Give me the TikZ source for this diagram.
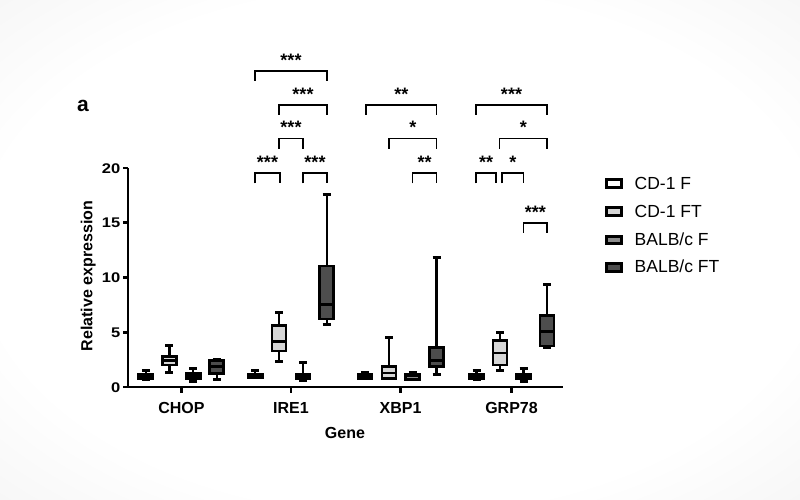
\documentclass[tikz,border=0pt]{standalone}
\usepackage{fontspec}
\setmainfont{Liberation Sans}
\usepackage{graphicx}
\pgfdeclareradialshading{vign}{\pgfpoint{0bp}{0bp}}{color(0bp)=(white); color(26bp)=(white); color(50bp)=(black!8); color(72bp)=(black!14)}
\definecolor{cfa}{HTML}{FFFFFF}
\definecolor{cfb}{HTML}{D6D6D6}
\definecolor{cfc}{HTML}{8C8C8C}
\definecolor{cfd}{HTML}{4D4D4D}
\newcommand\boxplt[7]{%
  \pgfmathsetmacro\ylo{387-10.95*#2}%
  \pgfmathsetmacro\yqa{387-10.95*#3}%
  \pgfmathsetmacro\ymd{387-10.95*#4}%
  \pgfmathsetmacro\yqb{387-10.95*#5}%
  \pgfmathsetmacro\yhi{387-10.95*#6}%
  \draw[whisk] (#1,\ylo) -- (#1,\yqa) (#1,\yqb) -- (#1,\yhi);
  \draw[wcap] (#1-4,\ylo) -- (#1+4,\ylo) (#1-4,\yhi) -- (#1+4,\yhi);
  \draw[bxs,fill=#7] (#1-7,\yqa) rectangle (#1+7,\yqb);
  \draw[medl] (#1-7,\ymd) -- (#1+7,\ymd);
}
\newcommand\sigbr[5]{% x1 x2 ytop label name
  \draw[brk] (#1,#3+10) -- (#1,#3) -- (#2,#3) -- (#2,#3+10);
  \node[starl] (#5) at ({(#1+#2)/2},#3-4.5) {#4};
}
\begin{document}
\begin{tikzpicture}[x=1pt,y=-1pt,
  whisk/.style={line width=2.2pt},
  wcap/.style={line width=3pt},
  bxs/.style={line width=2.7pt},
  medl/.style={line width=2.5pt},
  axl/.style={line width=2.6pt},
  brk/.style={line width=1.7pt},
  starl/.style={font=\fontsize{18}{18}\selectfont\bfseries, anchor=base, inner sep=0pt},
  tickl/.style={font=\fontsize{14}{14}\selectfont\bfseries, anchor=base east, inner sep=0pt},
  catl/.style={font=\fontsize{16}{16}\selectfont\bfseries, anchor=base, inner sep=0pt},
  legl/.style={font=\fontsize{17.5}{17.5}\selectfont, anchor=base west, inner sep=0pt},
  legb/.style={line width=3pt}
]
\useasboundingbox (0,0) rectangle (800,500);
\shade[shading=vign] (0,0) rectangle (800,500);

% axes
\draw[axl] (128,168) -- (128,387) -- (563,387);
\foreach \v/\nm in {0/t0,5/t5,10/t10,15/t15,20/t20}{
  \pgfmathsetmacro\yy{387-10.95*\v}
  \draw[axl] (128,\yy) -- (122.5,\yy);
  \node[tickl] (\nm) at (120.5,\yy+5) {\scalebox{1.18}[1]{\v}};
}
\foreach \xx/\lab/\nm in {181.5/CHOP/cA,291/IRE1/cB,400.5/XBP1/cC,511.5/GRP78/cD}{
  \draw[axl] (\xx,387) -- (\xx,393);
  \node[catl] (\nm) at (\xx,413) {\lab};
}
\node[catl] (gene) at (345,438.3) {Gene};
\node[font=\fontsize{16}{16}\selectfont\bfseries, rotate=90] (ylab) at (88.3,276) {Relative expression};
\node[font=\fontsize{21}{21}\selectfont\bfseries, anchor=base, inner sep=0pt] (pa) at (83,112) {a};

% boxes CHOP
\boxplt{145.8}{0.65}{0.8}{1.0}{1.2}{1.55}{cfa}
\boxplt{169.4}{1.3}{2.0}{2.4}{2.8}{3.75}{cfb}
\boxplt{193.3}{0.5}{0.75}{1.0}{1.25}{1.65}{cfc}
\boxplt{216.8}{0.65}{1.25}{1.85}{2.4}{2.55}{cfd}
% IRE1
\boxplt{255.3}{0.85}{0.85}{1.0}{1.2}{1.5}{cfa}
\boxplt{279}{2.3}{3.3}{4.15}{5.6}{6.8}{cfb}
\boxplt{303}{0.6}{0.8}{1.0}{1.2}{2.2}{cfc}
\boxplt{326.7}{5.7}{6.2}{7.55}{11.05}{17.6}{cfd}
% XBP1
\boxplt{365}{0.75}{0.8}{1.0}{1.15}{1.35}{cfa}
\boxplt{389}{0.75}{0.8}{1.3}{1.85}{4.5}{cfb}
\boxplt{412.5}{0.65}{0.7}{1.0}{1.2}{1.3}{cfc}
\boxplt{436.5}{1.15}{1.9}{2.4}{3.6}{11.85}{cfd}
% GRP78
\boxplt{476.5}{0.7}{0.8}{1.0}{1.2}{1.55}{cfa}
\boxplt{500}{1.55}{2.0}{3.1}{4.25}{5.0}{cfb}
\boxplt{523.5}{0.5}{0.75}{1.0}{1.2}{1.65}{cfc}
\boxplt{547}{3.6}{3.75}{5.05}{6.55}{9.35}{cfd}

% significance brackets
\sigbr{255}{327}{70.7}{***}{s1}
\sigbr{279}{327}{105}{***}{s2}
\sigbr{366}{436.5}{105}{**}{s3}
\sigbr{476}{547}{105}{***}{s4}
\sigbr{279}{303}{138.5}{***}{s5}
\sigbr{389}{436.5}{138.5}{*}{s6}
\sigbr{499.5}{547}{138.5}{*}{s7}
\sigbr{255}{280}{173.3}{***}{s8}
\sigbr{303}{327}{173.3}{***}{s9}
\sigbr{412.5}{436.5}{173.3}{**}{s10}
\sigbr{476}{496}{173.3}{**}{s11}
\sigbr{502}{523.5}{173.3}{*}{s12}
\sigbr{523.5}{547}{222.7}{***}{s13}

% legend
\draw[legb,fill=cfa] (606.5,179.5) rectangle (621.8,187.2);
\draw[legb,fill=cfb] (606.5,207.9) rectangle (621.8,215.6);
\draw[legb,fill=cfc] (606.5,236.2) rectangle (621.8,243.9);
\draw[legb,fill=cfd] (606.5,263.5) rectangle (621.8,271.2);
\node[legl] (l1) at (634.5,189.4) {CD-1 F};
\node[legl] (l2) at (634.5,217.6) {CD-1 FT};
\node[legl] (l3) at (634.5,245.8) {BALB/c F};
\node[legl] (l4) at (634.5,272.6) {BALB/c FT};
\end{tikzpicture}
\end{document}
